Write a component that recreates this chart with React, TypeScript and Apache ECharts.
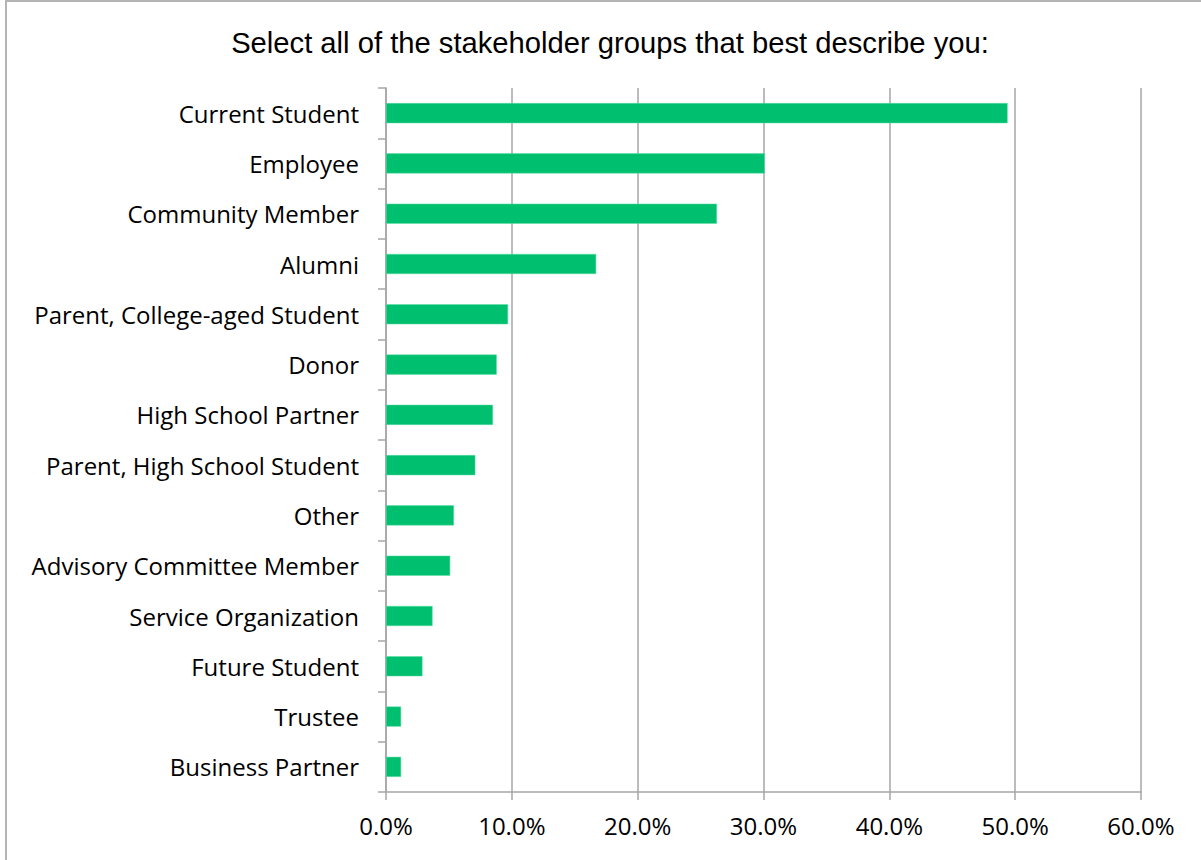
import React, { useEffect, useRef } from "react";
import * as echarts from "echarts";

const titleText = "Select all of the stakeholder groups that best describe you:";
const categories = [
  "Current Student",
  "Employee",
  "Community Member",
  "Alumni",
  "Parent, College-aged Student",
  "Donor",
  "High School Partner",
  "Parent, High School Student",
  "Other",
  "Advisory Committee Member",
  "Service Organization",
  "Future Student",
  "Trustee",
  "Business Partner",
];
const values = [49.4, 30.1, 26.3, 16.7, 9.7, 8.8, 8.5, 7.1, 5.4, 5.1, 3.7, 2.9, 1.2, 1.2];
const xMin = 0;
const xMax = 60;
const xInterval = 10;

export default function App() {
  const ref = useRef<HTMLDivElement>(null);
  useEffect(() => {
    if (!ref.current) return;
    const chart = echarts.init(ref.current, null, { renderer: "svg" });
    const labelFont = "'Open Sans', 'Noto Sans', sans-serif";
    chart.setOption({
      animation: false,
      backgroundColor: "#ffffff",
      title: {
        text: titleText,
        left: 605,
        top: 23,
        textAlign: "center",
        textStyle: {
          fontFamily: "'Liberation Sans', Arial, sans-serif",
          fontSize: 29.2,
          fontWeight: "normal",
          color: "#000000",
        },
      },
      graphic: [
        {
          type: "rect",
          shape: { x: 6, y: 1, width: 1210, height: 880 },
          style: { fill: "none", stroke: "#b4b4b4", lineWidth: 2 },
          silent: true,
        },
      ],
      grid: { left: 386, right: 60, top: 88, bottom: 68, containLabel: false },
      xAxis: {
        type: "value",
        min: xMin,
        max: xMax,
        interval: xInterval,
        axisLine: { show: true, lineStyle: { color: "#a6a6a6", width: 1.5 } },
        axisTick: { show: true, length: 8, lineStyle: { color: "#a6a6a6", width: 1.5 } },
        splitLine: { show: true, lineStyle: { color: "#a6a6a6", width: 1.5 } },
        axisLabel: {
          formatter: (v: number) => v.toFixed(1) + "%",
          fontFamily: labelFont,
          fontSize: 24,
          color: "#000000",
          margin: 21,
        },
      },
      yAxis: {
        type: "category",
        data: categories,
        inverse: true,
        boundaryGap: true,
        axisLine: { show: true, lineStyle: { color: "#a6a6a6", width: 1.5 } },
        axisTick: { show: true, length: 8, inside: false, alignWithLabel: false, lineStyle: { color: "#a6a6a6", width: 1.5 } },
        splitLine: { show: false },
        axisLabel: {
          fontFamily: labelFont,
          fontSize: 24,
          color: "#000000",
          margin: 27,
          padding: [0, 0, 3, 0],
        },
      },
      series: [
        {
          type: "bar",
          data: values,
          barCategoryGap: "60%",
          itemStyle: { color: "#00c06f", borderColor: "#5fdca6", borderWidth: 0.5 },
        },
      ],
    });
    return () => chart.dispose();
  }, []);
  return (
    <div
      ref={ref}
      style={{ position: "fixed", left: 0, top: 0, width: 1201, height: 860 }}
    />
  );
}
